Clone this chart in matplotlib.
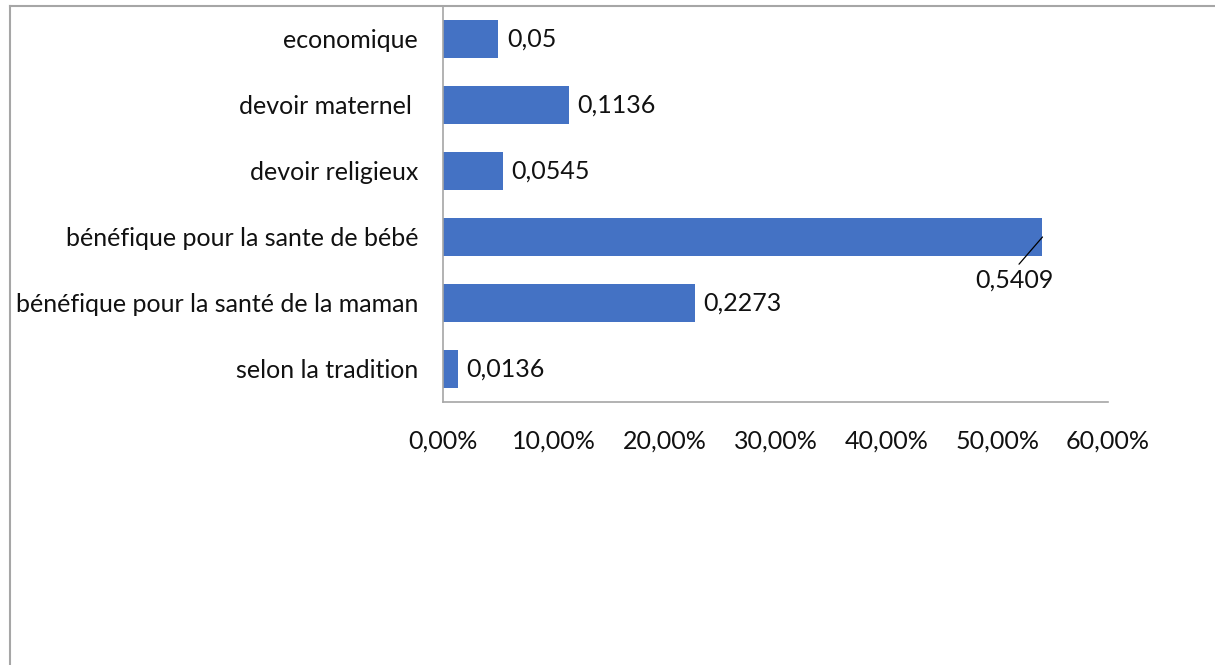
import numpy as np
import matplotlib.pyplot as plt
from matplotlib.lines import Line2D
from matplotlib.ticker import FuncFormatter

plt.rcParams['font.family'] = ['Lato', 'DejaVu Sans']

categories = ['economique', 'devoir maternel ', 'devoir religieux',
              'bénéfique pour la sante de bébé',
              'bénéfique pour la santé de la maman', 'selon la tradition']
values = [0.05, 0.1136, 0.0545, 0.5409, 0.2273, 0.0136]
labels = ['0,05', '0,1136', '0,0545', '0,5409', '0,2273', '0,0136']
xticks = [0, 0.1, 0.2, 0.3, 0.4, 0.5, 0.6]

W, H = 1215, 665
FS = 18
fig = plt.figure(figsize=(W / 100, H / 100), dpi=100)
# plot area in pixels: x 443..1108, y 6..402
ax = fig.add_axes([443 / W, 1 - 402 / H, 665 / W, 396 / H])

pos = np.arange(len(categories))
ax.barh(pos, values, height=0.58, color='#4472C4')
ax.set_ylim(len(categories) - 0.5, -0.5)
ax.set_xlim(0, 0.6)
ax.set_yticks(pos)
ax.set_yticklabels(categories, fontsize=FS, color='#111111')
ax.set_xticks(xticks)
ax.xaxis.set_major_formatter(FuncFormatter(lambda v, p: f'{v * 100:.2f}%'.replace('.', ',')))
ax.tick_params(axis='x', length=0, pad=20, labelsize=FS, labelcolor='#111111')
ax.tick_params(axis='y', length=0, pad=18)

for s in ['top', 'right']:
    ax.spines[s].set_visible(False)
for s in ['left', 'bottom']:
    ax.spines[s].set_color('#A6A6A6')
    ax.spines[s].set_linewidth(1.2)

for i, (v, t) in enumerate(zip(values, labels)):
    if v > 0.5:
        # label placed below the bar end with a leader line
        ax.annotate(t, xy=(v, i), xytext=(v - 0.025, i + 0.66),
                    fontsize=FS, color='#111111', ha='center', va='center',
                    arrowprops=dict(arrowstyle='-', color='black', lw=0.9,
                                    relpos=(0.5, 1.0), shrinkA=2, shrinkB=0))
    else:
        ax.annotate(t, xy=(v, i), xytext=(6, 0), textcoords='offset points',
                    fontsize=FS, color='#111111', ha='left', va='center')

# outer chart frame (only top and left edges fall inside the image)
fig.add_artist(Line2D([10 / W, 10 / W], [0, 1 - 6 / H], transform=fig.transFigure,
                      color='#A6A6A6', lw=1.5))
fig.add_artist(Line2D([10 / W, 1], [1 - 6 / H, 1 - 6 / H], transform=fig.transFigure,
                      color='#A6A6A6', lw=1.5))

fig.savefig('out.png', dpi=100)
